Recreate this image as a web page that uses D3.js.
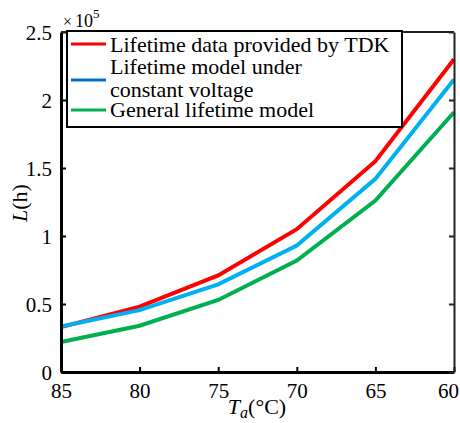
<!DOCTYPE html>
<html>
<head>
<meta charset="utf-8">
<script src="https://cdn.jsdelivr.net/npm/d3@7"></script>
<style>
  body { margin: 0; background: #fff; }
</style>
</head>
<body>
<script>
// chart data (lifetime in units of 1e5 hours)
var temps = [85, 80, 75, 70, 65, 60];
var tdkData = [0.33, 0.48, 0.71, 1.05, 1.55, 2.30];
var cvModel = [0.335, 0.455, 0.645, 0.93, 1.42, 2.15];
var generalModel = [0.22, 0.34, 0.53, 0.82, 1.26, 1.91];
var yTicks = [0, 0.5, 1, 1.5, 2, 2.5];
var seriesNames = ["Lifetime data provided by TDK", "Lifetime model under", "constant voltage", "General lifetime model"];

var fontFam = "'Liberation Serif'";
var width = 460, height = 423;
var margin = {left: 61, right: 6, top: 32, bottom: 51};

var svg = d3.select("body").append("svg")
    .attr("width", width)
    .attr("height", height);

var x = d3.scaleLinear().domain([85, 60]).range([margin.left, width - margin.right]);
var y = d3.scaleLinear().domain([0, 2.5]).range([height - margin.bottom, margin.top]);

var series = [
  {vals: tdkData, color: "#ff0000"},
  {vals: cvModel, color: "#00b0f0"},
  {vals: generalModel, color: "#00b050"}
];

var line = d3.line()
    .x(function(d) { return x(d[0]); })
    .y(function(d) { return y(d[1]); });

series.forEach(function(s) {
  svg.append("path")
    .datum(temps.map(function(t, i) { return [t, s.vals[i]]; }))
    .attr("fill", "none")
    .attr("stroke", s.color)
    .attr("stroke-width", 4)
    .attr("d", line);
});

// axes (ticks inward, like matlab)
var xAxis = svg.append("g")
    .attr("transform", "translate(0," + y(0) + ")")
    .call(d3.axisBottom(x).tickValues(temps).tickSizeInner(-5).tickSizeOuter(0).tickPadding(12));
var yAxis = svg.append("g")
    .attr("transform", "translate(" + x(85) + ",0)")
    .call(d3.axisLeft(y).tickValues(yTicks).tickFormat(d3.format("")).tickSizeInner(-5).tickSizeOuter(0).tickPadding(9));
var yRight = svg.append("g")
    .attr("transform", "translate(" + x(60) + ",0)")
    .call(d3.axisRight(y).tickValues(yTicks).tickFormat("").tickSizeInner(-5).tickSizeOuter(0));
svg.append("line")
    .attr("x1", x(85)).attr("x2", x(60))
    .attr("y1", y(2.5)).attr("y2", y(2.5))
    .attr("stroke", "#222").attr("stroke-width", 2);

[xAxis, yAxis].forEach(function(g) {
  g.select(".domain").attr("stroke", "#000").attr("stroke-width", 3);
  g.selectAll(".tick line").attr("stroke", "#000").attr("stroke-width", 2);
  g.selectAll(".tick text").style("font-size", "21px").style("font-family", fontFam).attr("fill", "#000");
});
yRight.select(".domain").attr("stroke", "#222").attr("stroke-width", 2);
yRight.selectAll(".tick line").attr("stroke", "#222").attr("stroke-width", 2);
yAxis.selectAll(".tick text").attr("dy", "0.35em");
xAxis.selectAll(".tick text").attr("dy", "0.66em");
// keep the last label inside the frame
xAxis.selectAll(".tick text").filter(function(d) { return d === 60; }).attr("dx", -6);

// exponent label
var expo = svg.append("text").attr("x", 63).attr("y", 27)
    .style("font-family", fontFam).style("font-size", "18px");
expo.append("tspan").text("\u00d7").style("font-size", "16px");
expo.append("tspan").text("10").attr("dx", 3);
expo.append("tspan").text("5").attr("dy", -9).style("font-size", "13px");

// axis titles
var xt = svg.append("text")
    .attr("x", 257).attr("y", 414)
    .attr("text-anchor", "middle")
    .style("font-family", fontFam)
    .style("font-size", "22px");
xt.append("tspan").text("T").style("font-style", "italic");
xt.append("tspan").text("a").style("font-style", "italic").style("font-size", "16px").attr("dy", 4);
xt.append("tspan").text("(\u00b0C)").attr("dy", -4);

var yt = svg.append("text")
    .attr("transform", "translate(27,203) rotate(-90)")
    .attr("text-anchor", "middle")
    .style("font-family", fontFam)
    .style("font-size", "22px");
yt.append("tspan").text("L").style("font-style", "italic");
yt.append("tspan").text("(h)");

// legend
var lg = svg.append("g");
lg.append("rect")
    .attr("x", 67).attr("y", 31).attr("width", 335).attr("height", 96)
    .attr("fill", "#fff").attr("stroke", "#000").attr("stroke-width", 2);
var legendLines = [
  {y: 44, color: "#ff0000"},
  {y: 80, color: "#0072c6"},
  {y: 110, color: "#00b050"}
];
legendLines.forEach(function(l) {
  lg.append("line")
    .attr("x1", 71).attr("x2", 106)
    .attr("y1", l.y).attr("y2", l.y)
    .attr("stroke", l.color).attr("stroke-width", 3);
});
var textY = [52, 74, 97, 117];
seriesNames.forEach(function(n, i) {
  lg.append("text")
    .attr("x", 110).attr("y", textY[i])
    .style("font-family", fontFam)
    .style("font-size", "22px")
    .text(n);
});
</script>
</body>
</html>
